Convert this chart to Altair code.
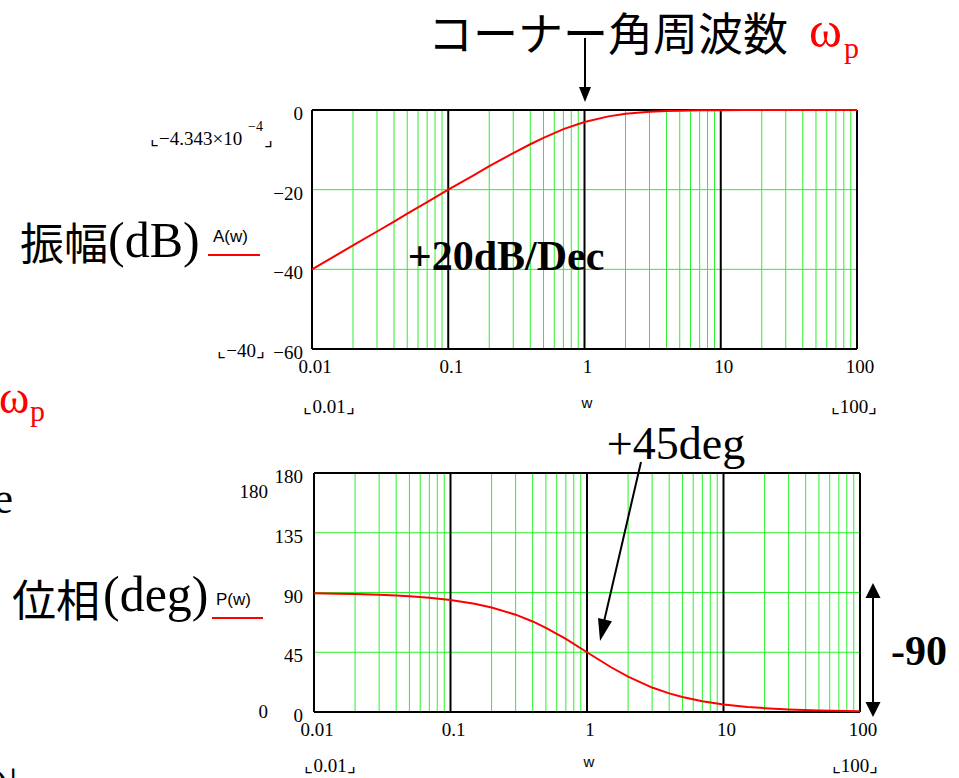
import altair as alt
import pandas as pd

# ---- frequency response of a first-order high-pass section ----
w = [0.01, 0.015, 0.02, 0.03, 0.04, 0.05, 0.07, 0.1, 0.15, 0.2, 0.3, 0.4, 0.5,
     0.7, 1, 1.5, 2, 3, 4, 5, 7, 10, 15, 20, 30, 50, 100]
gain_db = [-40.0, -36.5, -34.0, -30.5, -28.0, -26.0, -23.1, -20.0, -16.6, -14.1,
           -10.8, -8.6, -7.0, -4.8, -3.0, -1.6, -0.97, -0.46, -0.26, -0.17,
           -0.09, -0.04, -0.02, -0.01, 0.0, 0.0, 0.0]
phase_deg = [89.4, 89.1, 88.9, 88.3, 87.7, 87.1, 86.0, 84.3, 81.5, 78.7, 73.3,
             68.2, 63.4, 55.0, 45.0, 33.7, 26.6, 18.4, 14.0, 11.3, 8.1, 5.7,
             3.8, 2.9, 1.9, 1.1, 0.6]

# axes / grid
W_MIN, W_MAX = 0.01, 100
decades = [0.01, 0.1, 1, 10, 100]
x_tick_labels = ["0.01", "0.1", "1", "10", "100"]
minor = [m * d for d in [0.01, 0.1, 1, 10] for m in range(2, 10)]

GAIN_MIN, GAIN_MAX = -60, 0
gain_grid = [-20, -40]
gain_ticks = [0, -20, -40, -60]
gain_tick_labels = ["0", "\u221220", "\u221240", "\u221260"]

PHASE_MIN, PHASE_MAX = 0, 180
phase_grid = [45, 90, 135]
phase_ticks = [180, 135, 90, 45, 0]
phase_tick_labels = ["180", "135", "90", "45", "0"]

SERIF = "Liberation Serif"
SANS = "Liberation Sans"
CJK = "Noto Sans CJK JP"
GREEN = "#2af22a"
RED = "#ff0000"

ONE = pd.DataFrame({"k": [0]})


def panel(xscale, yscale, ylo, yhi, hlines, field, values, yticks, ylabels, xlabel_y):
    X = lambda f: alt.X(f, scale=xscale, axis=None)
    Y = lambda f: alt.Y(f, scale=yscale, axis=None)
    vgrid = alt.Chart(pd.DataFrame({"w": minor, "lo": ylo, "hi": yhi})).mark_rule(
        color=GREEN, strokeWidth=1).encode(x=X("w:Q"), y=Y("lo:Q"), y2="hi:Q")
    hgrid = alt.Chart(pd.DataFrame({"v": hlines, "lo": W_MIN, "hi": W_MAX})).mark_rule(
        color=GREEN, strokeWidth=1).encode(y=Y("v:Q"), x=X("lo:Q"), x2="hi:Q")
    vblack = alt.Chart(pd.DataFrame({"w": decades, "lo": ylo, "hi": yhi})).mark_rule(
        color="black", strokeWidth=2).encode(x=X("w:Q"), y=Y("lo:Q"), y2="hi:Q")
    hblack = alt.Chart(pd.DataFrame({"v": [ylo, yhi], "lo": W_MIN, "hi": W_MAX})).mark_rule(
        color="black", strokeWidth=2).encode(y=Y("v:Q"), x=X("lo:Q"), x2="hi:Q")
    curve = alt.Chart(pd.DataFrame({"w": w, field: values})).mark_line(
        color=RED, strokeWidth=2).encode(x=X("w:Q"), y=Y(f"{field}:Q"))
    xlab = alt.Chart(pd.DataFrame({"w": decades, "t": x_tick_labels})).mark_text(
        font=SERIF, fontSize=19, baseline="middle", dx=3).encode(
        x=X("w:Q"), y=alt.value(xlabel_y), text="t:N")
    ylab = alt.Chart(pd.DataFrame({"v": yticks, "t": ylabels})).mark_text(
        font=SERIF, fontSize=19, baseline="middle", align="right", dy=4).encode(
        y=Y("v:Q"), x=alt.value(303), text="t:N")
    return alt.layer(vgrid, hgrid, vblack, hblack, curve, xlab, ylab)


def txt(s, x, y, size, font=SERIF, color="black", align="left", weight="normal"):
    return alt.Chart(ONE).mark_text(
        text=s, font=font, fontSize=size, color=color, align=align,
        baseline="alphabetic", fontWeight=weight).encode(x=alt.value(x), y=alt.value(y))


def seg(x1, y1, x2, y2, width=2, color="black"):
    return alt.Chart(ONE).mark_rule(color=color, strokeWidth=width).encode(
        x=alt.value(x1), y=alt.value(y1), x2=alt.value(x2), y2=alt.value(y2))


def head(x, y, size, angle, half):
    path = f"M{-half},-1L{half},-1L0,1Z"
    return alt.Chart(ONE).mark_point(
        shape=path, filled=True, color="black", opacity=1, size=size, angle=angle,
        strokeWidth=0).encode(x=alt.value(x), y=alt.value(y))


gain_panel = panel(
    alt.Scale(type="log", domain=[W_MIN, W_MAX], range=[312, 857]),
    alt.Scale(domain=[GAIN_MIN, GAIN_MAX], range=[349, 110], nice=False, zero=False),
    GAIN_MIN, GAIN_MAX, gain_grid, "gain", gain_db, gain_ticks, gain_tick_labels, 367)

phase_panel = panel(
    alt.Scale(type="log", domain=[W_MIN, W_MAX], range=[314, 860]),
    alt.Scale(domain=[PHASE_MIN, PHASE_MAX], range=[712, 473], nice=False, zero=False),
    PHASE_MIN, PHASE_MAX, phase_grid, "phase", phase_deg, phase_ticks, phase_tick_labels, 730)

notes = [
    # corner frequency title
    txt("コーナー角周波数", 428, 51, 45, font=CJK),
    txt("ω", 809, 47, 50, color=RED),
    txt("p", 844, 58, 30, color=RED),
    seg(585, 38, 585, 92),
    head(585, 94.5, 225, 0, 0.8),
    # gain panel labels
    txt("振幅", 20, 260, 44, font=CJK),
    txt("(dB)", 108, 257, 50),
    txt("A(w)", 213, 242, 17, font=SANS),
    seg(208, 255, 260, 255, width=2, color=RED),
    txt("⌞\u22124.343×10", 150, 145, 19),
    txt("\u22124", 248, 131, 14),
    txt("⌟", 264, 146, 19),
    txt("⌞\u221240⌟", 265, 357, 19, align="right"),
    txt("⌞0.01⌟", 329, 413, 19, align="center"),
    txt("w", 587, 408, 15, font=SANS, align="center"),
    txt("⌞100⌟", 854, 413, 19, align="center"),
    txt("+20dB/Dec", 506, 270, 42, weight="bold", align="center"),
    # left margin fragments
    txt("ω", -1, 413, 46, color=RED),
    txt("p", 30, 421, 30, color=RED),
    txt("e", 13, 513, 44, align="right"),
    txt(")|", -6, 800, 44),
    # phase panel labels
    txt("位相", 12, 617, 44, font=CJK),
    txt("(deg)", 103, 611, 50),
    txt("P(w)", 216, 605, 17, font=SANS),
    seg(212, 618, 263, 618, width=2, color=RED),
    txt("180", 268, 498, 19, align="right"),
    txt("0", 268, 718, 19, align="right"),
    txt("⌞0.01⌟", 330, 772, 19, align="center"),
    txt("w", 589, 767, 15, font=SANS, align="center"),
    txt("⌞100⌟", 855, 772, 19, align="center"),
    txt("+45deg", 676, 459, 46, align="center"),
    seg(641, 462, 603, 626),
    head(602.5, 630.3, 484, 13, 0.65),
    # -90 degree span
    seg(873, 592, 873, 708),
    head(873, 590.5, 225, 180, 1.0),
    head(873, 709.5, 225, 0, 1.0),
    txt("-90", 891, 665, 42, weight="bold"),
]

chart = alt.layer(gain_panel, phase_panel, *notes).resolve_scale(
    x="independent", y="independent"
).properties(
    width=959, height=778, padding=0,
    autosize=alt.AutoSizeParams(type="none"),
    background="white",
).configure_view(stroke=None)

chart.save("out.html", embed_options={"renderer": "svg", "actions": False})
